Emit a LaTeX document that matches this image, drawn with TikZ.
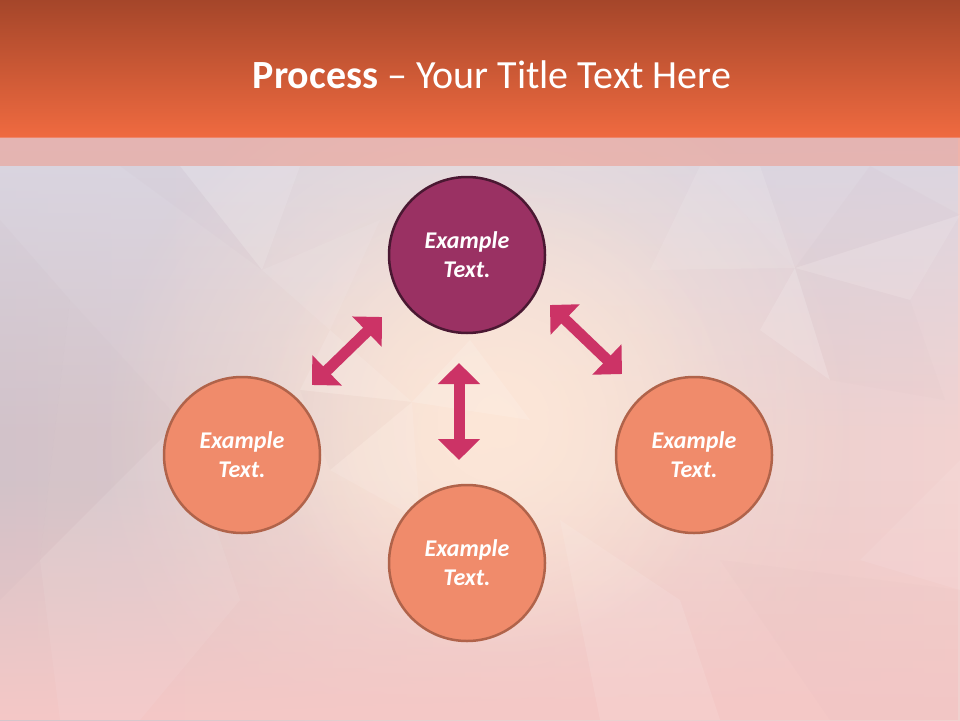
\documentclass[tikz,border=0pt]{standalone}
\usepackage{fontspec}
\setmainfont{Carlito}
\usetikzlibrary{arrows.meta,fadings}
\definecolor{hdtop}{HTML}{A5462A}
\definecolor{hdbot}{HTML}{EF6A40}
\definecolor{bandc}{HTML}{EE9A8C}
\definecolor{bgleft}{HTML}{D4C5CB}
\definecolor{bgright}{HTML}{F2D2D0}
\definecolor{peach}{HTML}{FDE7D8}
\definecolor{lav}{HTML}{DAD6E2}
\definecolor{pinkb}{HTML}{F5C8C6}
\definecolor{mauve}{HTML}{B89AA8}
\definecolor{topfill}{HTML}{9A3163}
\definecolor{topdraw}{HTML}{4A1832}
\definecolor{orfill}{HTML}{F08B6B}
\definecolor{ordraw}{HTML}{B0634A}
\definecolor{arrowcol}{HTML}{CC3366}
\tikzfading[name=softblob, inner color=transparent!10, outer color=transparent!100]
\tikzfading[name=fadeup, top color=transparent!100, bottom color=transparent!0]
\tikzfading[name=fadedown, top color=transparent!0, bottom color=transparent!100]
\tikzset{
  bubble/.style={circle, minimum size=156pt, inner sep=0pt, line width=2.5pt,
    align=center, text=white,
    font=\fontsize{24}{29}\selectfont\bfseries\itshape},
  topbubble/.style={bubble, fill=topfill, draw=topdraw},
  orbubble/.style={bubble, fill=orfill, draw=ordraw},
  blockarrow/.style={draw=arrowcol, line width=11pt,
    {Triangle[length=21pt,width=41pt]}-{Triangle[length=21pt,width=41pt]}},
  facetw/.style={fill=white, opacity=#1},
  facetm/.style={fill=mauve, opacity=#1}
}
\begin{document}
\begin{tikzpicture}[x=1pt,y=-1pt]
\useasboundingbox (0,0) rectangle (960,720);
% background
\shade[left color=bgleft, right color=bgright] (0,137) rectangle (960,720);
\fill[lav, path fading=fadedown] (0,137) rectangle (960,440);
\fill[peach, path fading=softblob] (480,430) circle (380);
\fill[pinkb, path fading=fadeup] (0,480) rectangle (960,720);
\fill[peach, path fading=softblob] (500,420) circle (240);
% facets
\fill[facetw=.12] (795,268)--(700,166)--(760,166)--cycle;
\fill[facetm=.05] (795,268)--(870,166)--(960,215)--cycle;
\fill[facetw=.10] (795,268)--(910,300)--(960,215)--cycle;
\fill[facetw=.14] (795,268)--(830,380)--(760,330)--cycle;
\fill[facetm=.03] (795,268)--(910,300)--(945,400)--(830,380)--cycle;
\fill[facetw=.10] (795,268)--(650,270)--(700,166)--cycle;
\fill[facetw=.12] (412,402)--(330,330)--(300,390)--cycle;
\fill[facetm=.04] (412,402)--(300,390)--(330,470)--cycle;
\fill[facetw=.15] (412,402)--(530,420)--(470,340)--cycle;
\fill[facetw=.10] (412,402)--(330,470)--(420,520)--cycle;
\fill[facetw=.12] (262,270)--(180,166)--(300,166)--cycle;
\fill[facetm=.04] (262,270)--(120,166)--(180,166)--cycle;
\fill[facetw=.08] (262,270)--(330,330)--(380,220)--cycle;
\fill[facetm=.05] (0,220)--(70,300)--(40,560)--(0,600)--cycle;
\fill[facetm=.03] (70,300)--(180,420)--(40,560)--cycle;
\fill[facetw=.07] (40,560)--(180,420)--(240,600)--(140,720)--(60,720)--cycle;
\fill[facetw=.10] (560,520)--(680,600)--(720,720)--(600,720)--cycle;
\fill[facetm=.03] (720,560)--(960,590)--(960,720)--(830,720)--cycle;
\fill[facetw=.08] (860,560)--(960,460)--(960,590)--cycle;
% header
\shade[top color=hdtop, bottom color=hdbot] (0,0) rectangle (960,137);
\fill[bandc, opacity=.55] (0,137) rectangle (960,166);
\node[anchor=base, text=white, font=\fontsize{40}{48}\selectfont, inner sep=0pt] (title) at (492,88) {{\bfseries Process} – Your Title Text Here};
% circles
\node[topbubble] (top) at (467,255) {Example\\Text.};
\node[orbubble] (left) at (242,455) {Example\\Text.};
\node[orbubble] (right) at (694,455) {Example\\Text.};
\node[orbubble] (bottom) at (467,563) {Example\\Text.};
% arrows
\coordinate (l1) at (312,385);
\coordinate (l2) at (382,317);
\coordinate (r1) at (550,305);
\coordinate (r2) at (622,374);
\coordinate (v1) at (459,363);
\coordinate (v2) at (459,460);
\draw[blockarrow] (l1) -- (l2);
\draw[blockarrow] (r1) -- (r2);
\draw[blockarrow] (v1) -- (v2);
\end{tikzpicture}
\end{document}
